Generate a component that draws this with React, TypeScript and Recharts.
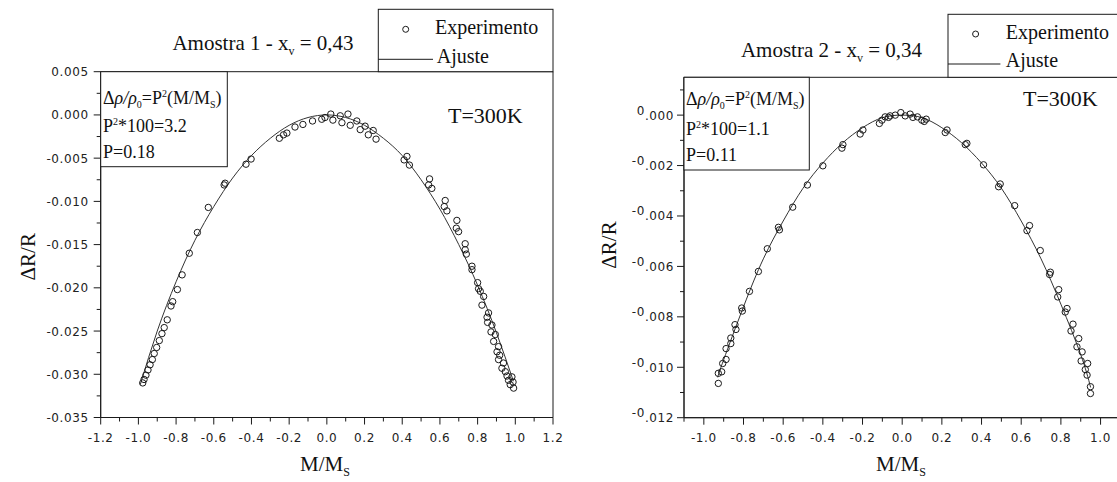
import React from "react";
import {
  ComposedChart,
  Scatter,
  Line,
  XAxis,
  YAxis,
  ReferenceArea,
} from "recharts";

const serif = "'Liberation Serif', 'Times New Roman', serif";
const tickFont = "'DejaVu Sans', sans-serif";
const ink = "#1a1a1a";

// ---- Amostra 1 (x_v = 0,43) : experimental points M/Ms vs dR/R ----
const exp1X = [
  -0.977, -0.97, -0.96, -0.949, -0.938, -0.926, -0.916, -0.903, -0.889, -0.875,
  -0.863, -0.847, -0.827, -0.818, -0.793, -0.768, -0.73, -0.687, -0.629, -0.545,
  -0.54, -0.429, -0.402,
  -0.252, -0.23, -0.212, -0.169, -0.127, -0.076, -0.027, -0.01, 0.021, 0.032,
  0.071, 0.08, 0.112, 0.124, 0.159, 0.177, 0.203, 0.22, 0.246, 0.261,
  0.425, 0.41, 0.438, 0.545, 0.54, 0.557, 0.628, 0.623, 0.637, 0.69,
  0.687, 0.699, 0.734, 0.734, 0.74, 0.77, 0.77, 0.8, 0.805, 0.814,
  0.832, 0.823, 0.858, 0.85, 0.853, 0.876, 0.871, 0.894, 0.885, 0.911,
  0.903, 0.917, 0.911, 0.937, 0.929, 0.947, 0.956, 0.982, 0.964, 0.988,
  0.973, 0.991,
];
const exp1Y = [
  -0.031, -0.0306, -0.0301, -0.0295, -0.0289, -0.0283, -0.0276, -0.0269, -0.0261, -0.0253,
  -0.0246, -0.0237, -0.0221, -0.0216, -0.0202, -0.0185, -0.016, -0.0136, -0.0107, -0.0081,
  -0.0079, -0.0057, -0.0051,
  -0.0027, -0.0023, -0.0021, -0.0014, -0.0011, -0.0007, -0.0005, -0.0003, 0.0001, -0.0006,
  -0.0001, -0.0009, 0.0001, -0.0012, -0.0007, -0.0017, -0.0013, -0.0023, -0.0018, -0.0028,
  -0.0048, -0.0052, -0.0058, -0.0074, -0.0081, -0.0085, -0.0099, -0.0106, -0.0111, -0.0122,
  -0.0131, -0.0135, -0.0149, -0.0156, -0.0161, -0.0175, -0.0179, -0.0194, -0.0201, -0.0204,
  -0.021, -0.022, -0.0229, -0.0234, -0.024, -0.0243, -0.0251, -0.0254, -0.0262, -0.0268,
  -0.0274, -0.0278, -0.0283, -0.0287, -0.0293, -0.0297, -0.0302, -0.0303, -0.0307, -0.0309,
  -0.0312, -0.0316,
];
// fitted curve (Ajuste)
const fit1X = [
  -0.99, -0.9, -0.8, -0.7, -0.6, -0.5, -0.4, -0.3, -0.2, -0.1, 0,
  0.1, 0.2, 0.3, 0.4, 0.5, 0.6, 0.7, 0.8, 0.9, 0.99,
];
const fit1Y = [
  -0.0312, -0.025, -0.0193, -0.0145, -0.0106, -0.0073, -0.0047, -0.0027, -0.0012, -0.0003, 0,
  -0.0003, -0.0012, -0.0027, -0.0047, -0.0075, -0.0109, -0.015, -0.0197, -0.0252, -0.0308,
];
const xTicks1 = [
  -1.2, -1.1, -1.0, -0.9, -0.8, -0.7, -0.6, -0.5, -0.4, -0.3, -0.2, -0.1, 0,
  0.1, 0.2, 0.3, 0.4, 0.5, 0.6, 0.7, 0.8, 0.9, 1.0, 1.1, 1.2,
];
const yTicks1 = [
  0.005, 0.0025, 0, -0.0025, -0.005, -0.0075, -0.01, -0.0125, -0.015,
  -0.0175, -0.02, -0.0225, -0.025, -0.0275, -0.03, -0.0325, -0.035,
];

// ---- Amostra 2 (x_v = 0,34) ----
const exp2X = [
  -0.927, -0.927, -0.91, -0.905, -0.888, -0.888, -0.864, -0.864, -0.838, -0.843,
  -0.806, -0.809, -0.77, -0.725, -0.68, -0.619, -0.624, -0.552, -0.478, -0.4,
  -0.304, -0.299, -0.212, -0.198, -0.115, -0.102, -0.069,
  -0.086, -0.061, -0.035, -0.007, 0.015, 0.04, 0.054, 0.077, 0.099, 0.121, 0.111,
  0.217, 0.226, 0.318, 0.326, 0.41, 0.486, 0.494, 0.567, 0.642, 0.629,
  0.696, 0.747, 0.743, 0.789, 0.784, 0.831, 0.822, 0.861, 0.851, 0.89,
  0.881, 0.907, 0.902, 0.935, 0.923, 0.932, 0.949, 0.949,
];
const exp2Y = [
  -0.01064, -0.01024, -0.01018, -0.00985, -0.00969, -0.00926, -0.00906, -0.00884, -0.0085, -0.00831,
  -0.00777, -0.00765, -0.00699, -0.0062, -0.0053, -0.00455, -0.00445, -0.00365, -0.00277, -0.00201,
  -0.00131, -0.00117, -0.00075, -0.00059, -0.00033, -0.0002, -0.00009,
  -0.00007, -0.00003, 0, 0.0001, -0.00003, 0.00004, -0.00009, -0.00007, -0.0002, -0.00016, -0.00025,
  -0.00069, -0.00059, -0.00117, -0.00112, -0.00197, -0.00284, -0.00273, -0.00359, -0.00438, -0.00458,
  -0.00537, -0.00623, -0.00632, -0.00692, -0.00721, -0.00767, -0.00781, -0.00829, -0.00856, -0.00886,
  -0.00919, -0.00939, -0.00975, -0.00985, -0.01009, -0.01031, -0.01077, -0.01104,
];
const fit2X = [
  -0.93, -0.9, -0.8, -0.7, -0.6, -0.5, -0.4, -0.3, -0.2, -0.1, 0,
  0.1, 0.2, 0.3, 0.4, 0.5, 0.6, 0.7, 0.8, 0.9, 0.95,
];
const fit2Y = [
  -0.0104, -0.0097, -0.0076, -0.0057, -0.0042, -0.0029, -0.0019, -0.0011, -0.0005, -0.0001, 0,
  -0.0001, -0.0005, -0.0011, -0.0019, -0.0029, -0.0042, -0.0057, -0.0075, -0.0095, -0.0108,
];
const xTicks2 = [
  -1.1, -1.0, -0.9, -0.8, -0.7, -0.6, -0.5, -0.4, -0.3, -0.2, -0.1, 0,
  0.1, 0.2, 0.3, 0.4, 0.5, 0.6, 0.7, 0.8, 0.9, 1.0, 1.1,
];
const yTicks2 = [
  0.001, 0, -0.001, -0.002, -0.003, -0.004, -0.005, -0.006, -0.007,
  -0.008, -0.009, -0.01, -0.011, -0.012,
];

const zip = (xs: number[], ys: number[]) => xs.map((x, i) => ({ x, y: ys[i] }));

const Ring = (p: any) =>
  p.cx == null ? <g /> : (
    <circle cx={p.cx} cy={p.cy} r={3.2} fill="none" stroke={ink} strokeWidth={1} />
  );

const tickText = { fontFamily: tickFont, fontSize: 12, letterSpacing: 0.6, fill: "#222" };

// x ticks: every 0.1, labels only on the 0.2 ones
const XTick = (p: any) => {
  const v = p.payload.value;
  const major = Math.round(v * 10) % 2 === 0;
  return (
    <g>
      <line x1={p.x} x2={p.x} y1={p.y} y2={p.y + (major ? 7 : 4)} stroke={ink} />
      {major && (
        <text x={p.x} y={p.y + 24} textAnchor="middle" style={tickText}>
          {v.toFixed(1)}
        </text>
      )}
    </g>
  );
};

const YTick1 = (p: any) => {
  const v = p.payload.value;
  const major = Math.round(v * 10000) % 50 === 0;
  return (
    <g>
      <line x1={p.x} x2={p.x - (major ? 7 : 4)} y1={p.y} y2={p.y} stroke={ink} />
      {major && (
        <text x={p.x - 12} y={p.y + 4.5} textAnchor="end" style={tickText}>
          {v.toFixed(3)}
        </text>
      )}
    </g>
  );
};

// second panel prints the leading "0" raised, like the original export
const YTick2 = (p: any) => {
  const v = p.payload.value;
  const major = Math.round(v * 1000) % 2 === 0;
  const s = v.toFixed(3);
  const dot = s.indexOf(".");
  return (
    <g>
      <line x1={p.x} x2={p.x - (major ? 7 : 4)} y1={p.y} y2={p.y} stroke={ink} />
      {major && (
        <text x={p.x - 10} y={p.y + 4.5} textAnchor="end" style={tickText}>
          <tspan dy={-5}>{s.slice(0, dot)}</tspan>
          <tspan dy={5}>{s.slice(dot)}</tspan>
        </text>
      )}
    </g>
  );
};

const AXIS_W = 80;
const AXIS_H = 40;

function Panel(props: any) {
  const { left, width, margin, xDomain, yDomain, xTicks, yTicks, yTick, exp, fit } = props;
  const m = {
    top: margin.top,
    right: margin.right,
    left: margin.left - AXIS_W,
    bottom: margin.bottom - AXIS_H,
  };
  return (
    <div style={{ position: "absolute", left, top: 0 }}>
      <ComposedChart width={width} height={482} margin={m}>
        <XAxis
          type="number"
          dataKey="x"
          domain={xDomain}
          ticks={xTicks}
          interval={0}
          tick={XTick}
          tickLine={false}
          tickSize={0}
          tickMargin={0}
          height={AXIS_H}
          axisLine={{ stroke: ink }}
          allowDataOverflow
        />
        <YAxis
          type="number"
          dataKey="y"
          domain={yDomain}
          ticks={yTicks}
          interval={0}
          tick={yTick}
          tickLine={false}
          tickSize={0}
          tickMargin={0}
          width={AXIS_W}
          axisLine={{ stroke: ink }}
          allowDataOverflow
        />
        <ReferenceArea
          x1={xDomain[0]}
          x2={xDomain[1]}
          y1={yDomain[0]}
          y2={yDomain[1]}
          fill="none"
          stroke={ink}
          strokeWidth={1}
          ifOverflow="visible"
        />
        <Line
          data={fit}
          dataKey="y"
          type="natural"
          stroke="#333"
          strokeWidth={1}
          dot={false}
          activeDot={false}
          isAnimationActive={false}
        />
        <Scatter data={exp} dataKey="y" shape={Ring} isAnimationActive={false} />
      </ComposedChart>
    </div>
  );
}

const txt = { fontFamily: serif, fill: "#111" };

export default function App() {
  return (
    <div
      style={{
        position: "absolute",
        left: 0,
        top: 0,
        width: 1117,
        height: 482,
        overflow: "hidden",
        background: "#fff",
      }}
    >
      <Panel
        left={0}
        width={575}
        margin={{ top: 71.7, right: 22, bottom: 64.5, left: 100.7 }}
        xDomain={[-1.2, 1.2]}
        yDomain={[-0.035, 0.005]}
        xTicks={xTicks1}
        yTicks={yTicks1}
        yTick={YTick1}
        exp={zip(exp1X, exp1Y)}
        fit={zip(fit1X, fit1Y)}
      />
      <Panel
        left={560}
        width={570}
        margin={{ top: 77.3, right: 9.6, bottom: 64.3, left: 124 }}
        xDomain={[-1.1, 1.1]}
        yDomain={[-0.012, 0.0015]}
        xTicks={xTicks2}
        yTicks={yTicks2}
        yTick={YTick2}
        exp={zip(exp2X, exp2Y)}
        fit={zip(fit2X, fit2Y)}
      />

      {/* titles, legends and annotation boxes */}
      <svg
        width={1117}
        height={482}
        style={{ position: "absolute", left: 0, top: 0, pointerEvents: "none" }}
      >
        {/* panel 1 */}
        <text x={263} y={49.5} textAnchor="middle" fontSize={21} style={txt}>
          Amostra 1 - x<tspan fontSize={12} dy={5}>v</tspan>
          <tspan dy={-5}> = 0,43</tspan>
        </text>
        <rect x={378.3} y={9.3} width={174.7} height={62.4} fill="#fff" stroke={ink} />
        <circle cx={405.7} cy={29.3} r={3} fill="none" stroke={ink} />
        <text x={435} y={33.5} fontSize={20} style={txt}>Experimento</text>
        <line x1={378.3} x2={433} y1={59.3} y2={59.3} stroke={ink} />
        <text x={436.7} y={62.5} fontSize={20} style={txt}>Ajuste</text>

        <rect x={100.7} y={71.7} width={126.6} height={95} fill="#fff" stroke={ink} />
        <text x={103} y={104} fontSize={18} style={txt}>
          Δ<tspan fontStyle="italic">ρ/ρ</tspan>
          <tspan fontSize={10} dy={4}>0</tspan>
          <tspan dy={-4}>=P</tspan>
          <tspan fontSize={10} dy={-7}>2</tspan>
          <tspan dy={7}>(M/M</tspan>
          <tspan fontSize={10} dy={4}>S</tspan>
          <tspan dy={-4}>)</tspan>
        </text>
        <text x={103} y={132} fontSize={18} style={txt}>
          P<tspan fontSize={10} dy={-7}>2</tspan>
          <tspan dy={7}>*100=3.2</tspan>
        </text>
        <text x={103} y={158} fontSize={18} style={txt}>P=0.18</text>
        <text x={448} y={123} fontSize={22} style={txt}>T=300K</text>

        <text
          x={35}
          y={256.7}
          textAnchor="middle"
          fontSize={21}
          transform="rotate(-90 35 256.7)"
          style={txt}
        >
          ΔR/R
        </text>
        <text x={300} y={471} fontSize={21} style={txt}>
          M/M<tspan fontSize={12} dy={5}>S</tspan>
        </text>

        {/* panel 2 */}
        <text x={831.5} y={57} textAnchor="middle" fontSize={21} style={txt}>
          Amostra 2 - x<tspan fontSize={12} dy={5}>v</tspan>
          <tspan dy={-5}> = 0,34</tspan>
        </text>
        <rect x={948} y={14.3} width={200} height={63} fill="#fff" stroke={ink} />
        <circle cx={975.6} cy={34} r={3} fill="none" stroke={ink} />
        <text x={1005.8} y={38.5} fontSize={20} style={txt}>Experimento</text>
        <line x1={948} x2={1000.4} y1={64} y2={64} stroke={ink} />
        <text x={1005.8} y={66.5} fontSize={20} style={txt}>Ajuste</text>

        <rect x={684} y={77.3} width={125.3} height={92.7} fill="#fff" stroke={ink} />
        <text x={686} y={105} fontSize={18} style={txt}>
          Δ<tspan fontStyle="italic">ρ/ρ</tspan>
          <tspan fontSize={10} dy={4}>0</tspan>
          <tspan dy={-4}>=P</tspan>
          <tspan fontSize={10} dy={-7}>2</tspan>
          <tspan dy={7}>(M/M</tspan>
          <tspan fontSize={10} dy={4}>S</tspan>
          <tspan dy={-4}>)</tspan>
        </text>
        <text x={686} y={135} fontSize={18} style={txt}>
          P<tspan fontSize={10} dy={-7}>2</tspan>
          <tspan dy={7}>*100=1.1</tspan>
        </text>
        <text x={686} y={161} fontSize={18} style={txt}>P=0.11</text>
        <text x={1023} y={106} fontSize={22} style={txt}>T=300K</text>

        <text
          x={616}
          y={245}
          textAnchor="middle"
          fontSize={21}
          transform="rotate(-90 616 245)"
          style={txt}
        >
          ΔR/R
        </text>
        <text x={876} y={471} fontSize={21} style={txt}>
          M/M<tspan fontSize={12} dy={5}>S</tspan>
        </text>
      </svg>
    </div>
  );
}
